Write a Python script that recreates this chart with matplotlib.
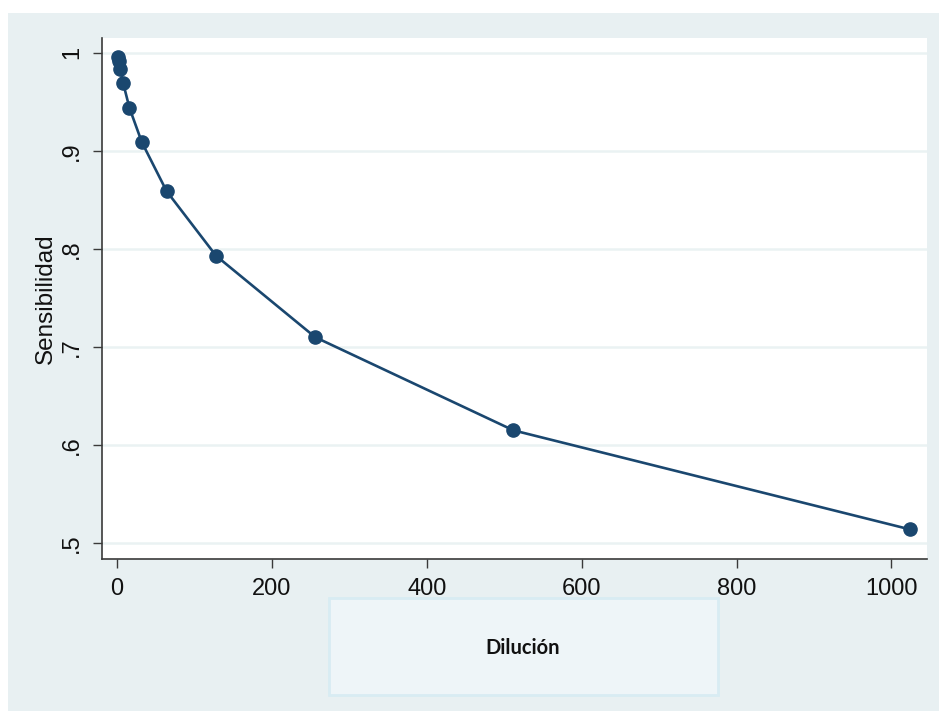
import matplotlib
matplotlib.use("Agg")
import matplotlib.pyplot as plt
from matplotlib.patches import Rectangle
from matplotlib.ticker import FuncFormatter

# data
dilucion = [1, 2, 4, 8, 16, 32, 64, 128, 256, 512, 1024]
sensibilidad = [0.996, 0.992, 0.984, 0.969, 0.944, 0.909, 0.859, 0.793, 0.710, 0.615, 0.514]
x_ticks = [0, 200, 400, 600, 800, 1000]
y_ticks = [0.5, 0.6, 0.7, 0.8, 0.9, 1.0]

navy = "#1a476f"
bg = "#e8f0f2"
grid = "#eaf2f3"

plt.rcParams['font.family'] = ['Liberation Sans', 'DejaVu Sans']

W, H = 939, 711
fig = plt.figure(figsize=(W / 100, H / 100), dpi=100)
fig.patch.set_facecolor("white")

# light background panel (Stata graph region)
fig.patches.append(Rectangle((8 / W, 0), (W - 8) / W, (H - 13) / H,
                             transform=fig.transFigure, facecolor=bg,
                             edgecolor="none", zorder=-10))

ax = fig.add_axes([102 / W, (H - 559) / H, 825 / W, 521 / H])
ax.set_facecolor("white")

ax.plot(dilucion, sensibilidad, color=navy, lw=1.9, marker="o",
        markersize=9.5, markerfacecolor=navy, markeredgecolor=navy, zorder=3)

ax.set_xlim(-19.4, 1046)
ax.set_ylim(0.4838, 1.0152)
ax.set_xticks(x_ticks)
ax.set_yticks(y_ticks)


def strip_zero(v, pos):
    s = "%g" % round(v, 2)
    return s[1:] if s.startswith("0.") else s


ax.yaxis.set_major_formatter(FuncFormatter(strip_zero))
ax.grid(axis="y", color=grid, lw=1.8, zorder=1)
ax.grid(axis="x", visible=False)

for side in ["top", "right"]:
    ax.spines[side].set_visible(False)
for side in ["left", "bottom"]:
    ax.spines[side].set_color("#3a3a3a")
    ax.spines[side].set_linewidth(1.2)

ax.tick_params(axis="both", direction="out", length=6.5, width=1.0,
               color="#3a3a3a", labelsize=17, labelcolor="#111111")
ax.tick_params(axis="x", pad=7.5)
ax.tick_params(axis="y", pad=7)
for lbl in ax.get_yticklabels():
    lbl.set_rotation(90)
    lbl.set_va("center")

ax.set_ylabel("Sensibilidad", fontsize=17.5, labelpad=3, color="#111111")

# x-title box at the bottom
fig.patches.append(Rectangle((329 / W, (H - 695) / H), 389 / W, 97 / H,
                             transform=fig.transFigure, facecolor="#eef5f8",
                             edgecolor="#d8ecf3", lw=2, zorder=1))
fig.text(523 / W, (H - 648) / H, "Dilución", ha="center", va="center",
         fontsize=14.5, fontweight="bold", family=["Lato", "DejaVu Sans"],
         color="#111111")

fig.savefig("out.png", dpi=100, facecolor=fig.get_facecolor())
